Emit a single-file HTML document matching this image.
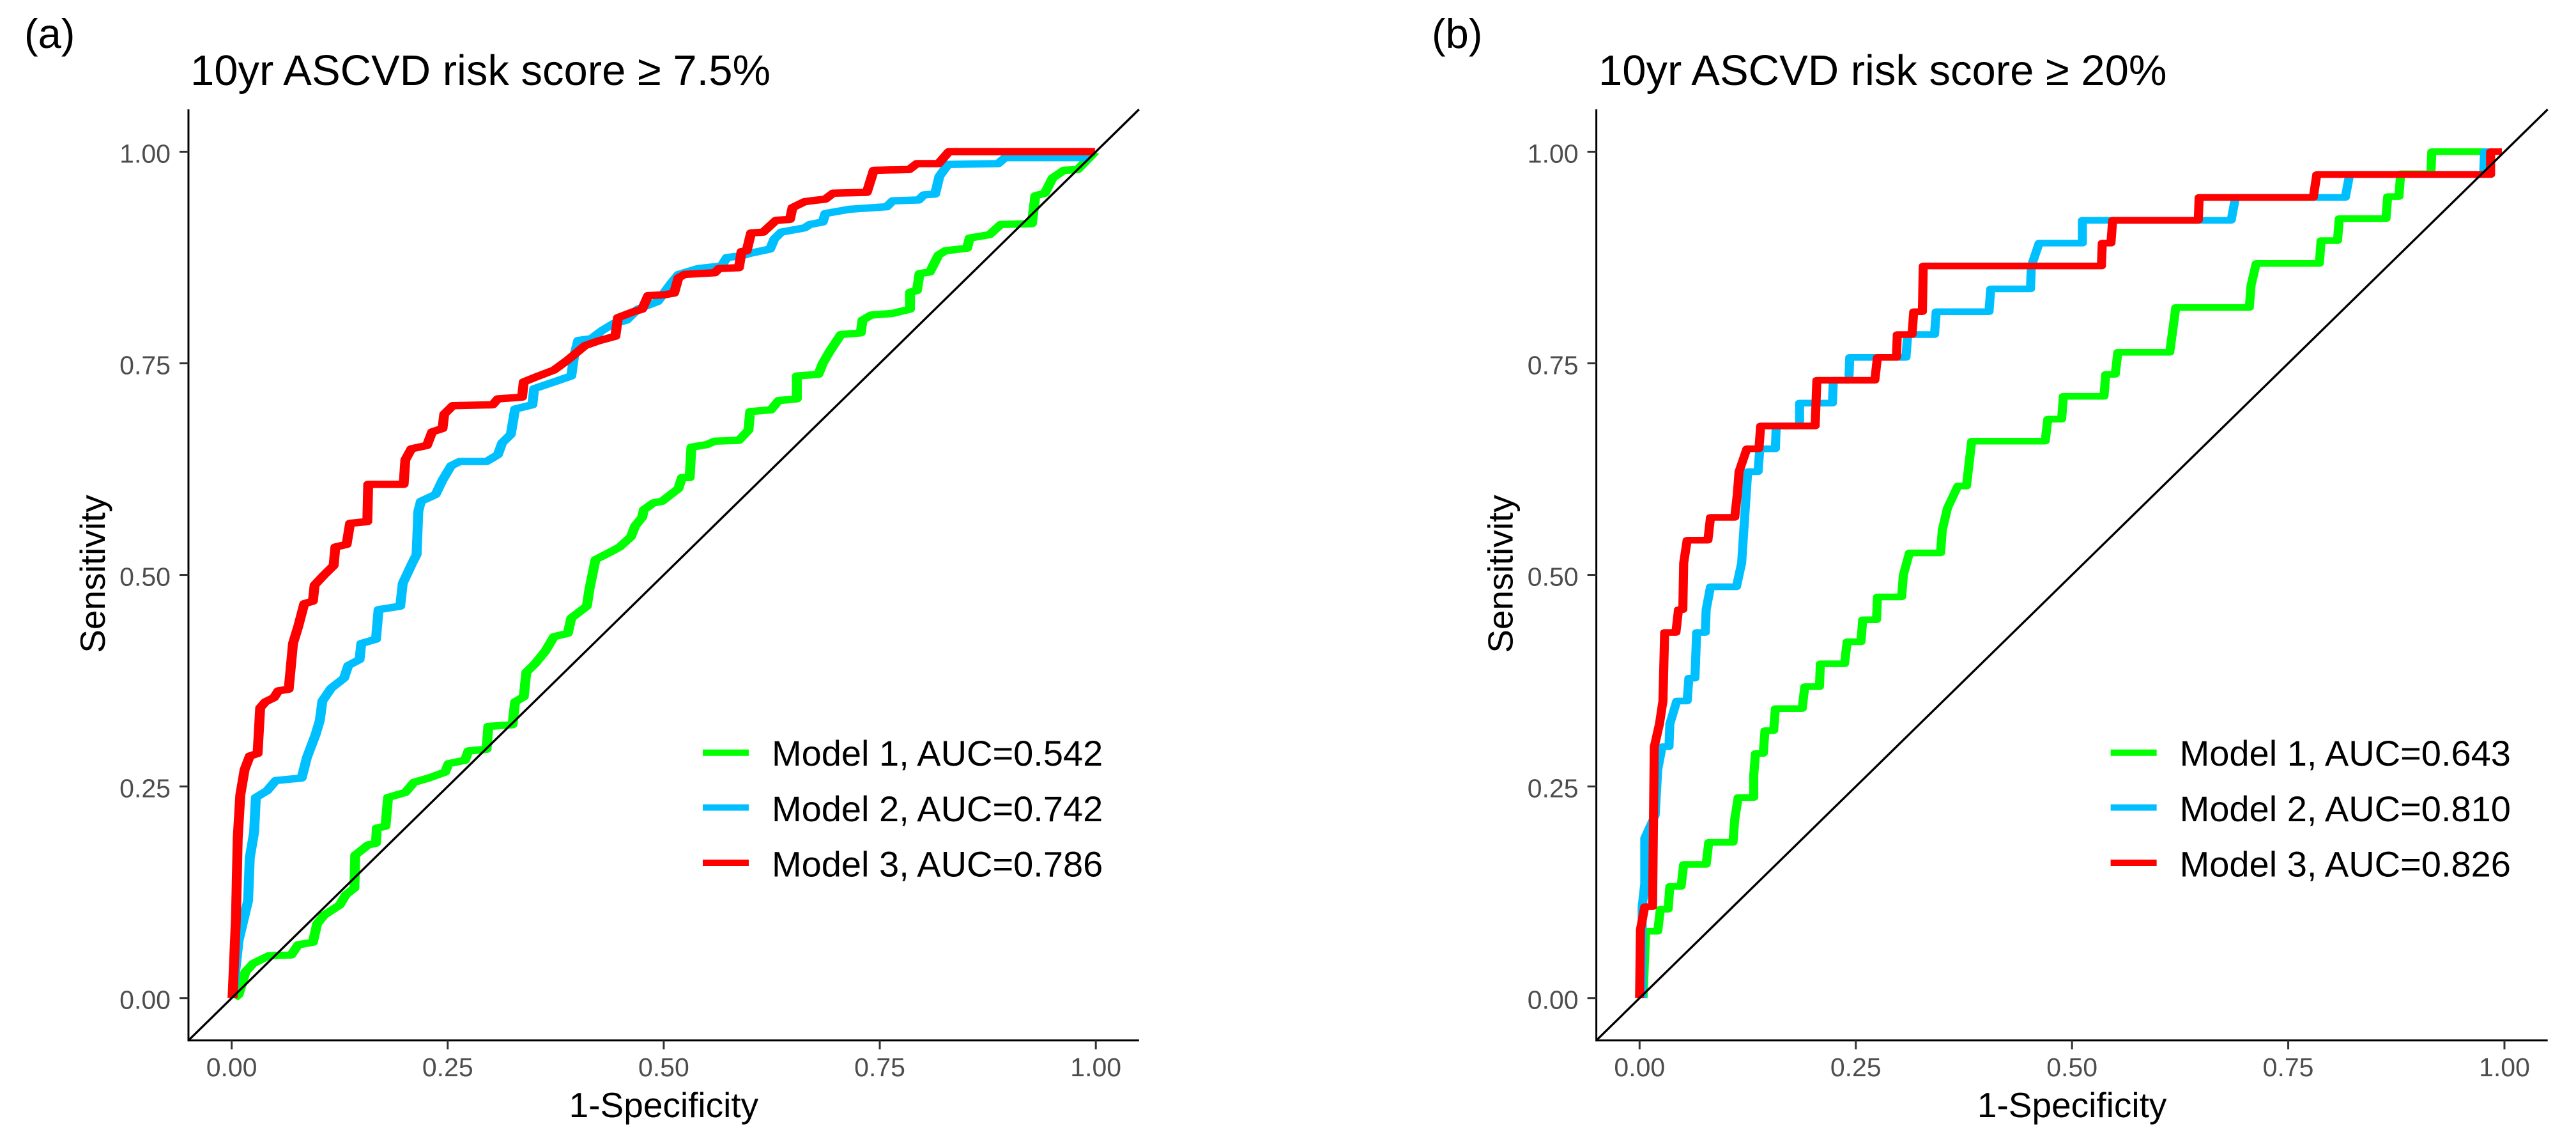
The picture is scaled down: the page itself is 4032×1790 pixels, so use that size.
<!DOCTYPE html>
<html lang="en">
<head>
<meta charset="utf-8">
<title>ROC curves for 10yr ASCVD risk score</title>
<style>
html,body{margin:0;padding:0;background:#fff;}
svg{display:block;font-family:"Liberation Sans",Arial,sans-serif;}
</style>
</head>
<body>
<svg id="figure" xmlns="http://www.w3.org/2000/svg" width="4032" height="1790" viewBox="0 0 4032 1790">
<rect x="0" y="0" width="4032" height="1790" fill="#fff"/>
<text x="38" y="75" font-size="65" fill="#000">(a)</text>
<text x="298" y="133" font-size="67" fill="#000">10yr ASCVD risk score ≥ 7.5%</text>
<text x="2241" y="75" font-size="65" fill="#000">(b)</text>
<text x="2502" y="133" font-size="67" fill="#000">10yr ASCVD risk score ≥ 20%</text>
<g id="panel-a"></g>
<g id="panel-b"></g>
</svg>
<script>
const xTickValues=[0,0.25,0.5,0.75,1];
const yTickValues=[0,0.25,0.5,0.75,1];
const tickLabels=["0.00","0.25","0.50","0.75","1.00"];
const seriesNames=["model-1","model-2","model-3"];
const seriesColors=["#00ff00","#00bfff","#ff0000"];
const panelALegend=["Model 1, AUC=0.542","Model 2, AUC=0.742","Model 3, AUC=0.786"];
const panelBLegend=["Model 1, AUC=0.643","Model 2, AUC=0.810","Model 3, AUC=0.826"];

const panelAModel1Fpr=[.003,.008,.016,.025,.043,.069,.077,.094,.099,.107,.125,.132,.142,.143,.158,.167,.168,.178,.181,.201,.211,.228,.247,.251,.270,.274,.295,.297,.325,.328,.338,.341,.351,.363,.373,.389,.393,.411,.414,.421,.440,.449,.462,.467,.475,.477,.488,.498,.517,.521,.530,.532,.550,.559,.587,.598,.600,.624,.633,.654,.654,.679,.684,.692,.705,.728,.730,.740,.765,.785,.785,.793,.796,.808,.818,.826,.851,.854,.877,.890,.926,.930,.941,.950,.963,.979,.999];
const panelAModel1Tpr=[0,.004,.031,.041,.050,.051,.063,.066,.088,.098,.110,.122,.130,.169,.181,.183,.201,.203,.237,.243,.255,.260,.267,.277,.281,.292,.294,.321,.323,.350,.356,.385,.395,.410,.427,.431,.449,.463,.483,.518,.528,.533,.545,.558,.568,.577,.585,.587,.602,.615,.615,.651,.654,.658,.659,.671,.693,.695,.706,.708,.735,.737,.750,.764,.784,.786,.801,.807,.809,.814,.834,.836,.856,.858,.878,.883,.886,.898,.902,.914,.915,.948,.951,.969,.978,.979,1];

const panelAModel2Fpr=[.001,.004,.008,.019,.021,.026,.028,.041,.051,.081,.087,.097,.102,.105,.115,.130,.135,.148,.150,.167,.170,.195,.198,.209,.214,.216,.219,.236,.244,.254,.264,.295,.308,.313,.323,.328,.348,.350,.373,.393,.396,.401,.416,.429,.442,.457,.470,.493,.509,.517,.540,.567,.573,.590,.600,.623,.628,.636,.663,.669,.684,.687,.715,.758,.765,.795,.801,.814,.819,.829,.887,.895,.993];
const panelAModel2Tpr=[0,.03,.068,.115,.166,.196,.237,.245,.257,.260,.284,.311,.328,.351,.366,.378,.393,.400,.419,.424,.459,.463,.490,.514,.524,.575,.587,.595,.612,.629,.634,.634,.642,.656,.666,.696,.701,.720,.728,.735,.757,.777,.779,.789,.797,.801,.814,.823,.845,.855,.862,.865,.875,.877,.880,.885,.897,.905,.910,.914,.917,.927,.932,.935,.942,.943,.949,.950,.971,.985,.986,.993,.993];

const panelAModel3Fpr=[.001,.003,.005,.006,.007,.010,.015,.021,.030,.033,.039,.049,.054,.066,.071,.077,.084,.094,.096,.107,.118,.120,.133,.137,.157,.158,.199,.201,.208,.226,.232,.244,.246,.256,.302,.308,.336,.338,.355,.373,.389,.409,.426,.444,.447,.465,.475,.482,.501,.512,.517,.524,.559,.564,.587,.590,.596,.601,.615,.630,.646,.649,.663,.687,.696,.735,.743,.784,.793,.818,.830,.999];
const panelAModel3Tpr=[0,.048,.095,.142,.189,.240,.270,.286,.289,.343,.350,.355,.363,.365,.419,.439,.466,.469,.488,.500,.511,.533,.536,.561,.563,.607,.607,.636,.649,.653,.669,.673,.690,.700,.701,.708,.710,.728,.735,.742,.754,.771,.777,.782,.804,.811,.814,.830,.831,.833,.851,.855,.857,.862,.863,.882,.883,.904,.905,.919,.920,.934,.941,.944,.951,.952,.978,.979,.986,.986,1,1];

const panelBModel1Fpr=[.004,.007,.021,.024,.033,.035,.048,.051,.077,.080,.108,.110,.114,.132,.132,.134,.143,.145,.155,.157,.188,.191,.208,.209,.237,.240,.256,.258,.274,.275,.303,.305,.312,.348,.350,.356,.368,.378,.381,.384,.469,.472,.488,.490,.537,.539,.550,.553,.613,.620,.705,.707,.713,.786,.788,.807,.809,.863,.865,.878,.880,.915,.916,.976];
const panelBModel1Tpr=[0,.079,.079,.105,.105,.132,.132,.158,.158,.184,.184,.211,.237,.237,.263,.289,.289,.316,.316,.342,.342,.368,.368,.395,.395,.421,.421,.447,.447,.474,.474,.5,.526,.526,.553,.579,.605,.605,.632,.658,.658,.684,.684,.711,.711,.737,.737,.763,.763,.816,.816,.842,.868,.868,.895,.895,.921,.921,.947,.947,.974,.974,1,1];

const panelBModel2Fpr=[.003,.003,.006,.006,.018,.021,.026,.034,.035,.043,.055,.057,.064,.066,.076,.077,.082,.112,.118,.125,.137,.139,.157,.158,.185,.185,.223,.224,.242,.243,.308,.310,.341,.343,.404,.406,.452,.453,.462,.512,.512,.684,.689,.816,.821,.976,.977,.985];
const panelBModel2Tpr=[0,.108,.135,.189,.216,.27,.297,.297,.324,.351,.351,.378,.378,.432,.432,.459,.486,.486,.514,.622,.622,.649,.649,.676,.676,.703,.703,.73,.73,.757,.757,.784,.784,.811,.811,.838,.838,.865,.892,.892,.919,.919,.946,.946,.973,.973,1,1];

const panelBModel3Fpr=[0,.001,.006,.015,.017,.023,.027,.029,.042,.045,.050,.051,.055,.079,.082,.110,.113,.115,.124,.138,.140,.203,.205,.272,.275,.297,.298,.315,.317,.327,.328,.534,.535,.545,.547,.646,.647,.779,.783,.984,.984,.997];
const panelBModel3Tpr=[0,.081,.108,.108,.297,.324,.351,.432,.432,.459,.459,.514,.541,.541,.568,.568,.595,.622,.649,.649,.676,.676,.73,.73,.757,.757,.784,.784,.811,.811,.865,.865,.892,.892,.919,.919,.946,.946,.973,.973,1,1];

const SVG_NS="http://www.w3.org/2000/svg";
const PEN_STRETCH=1.35;

function drawPanel(id,prefix,xZero,xUnit,penWidth,legendTexts,seriesFpr,seriesTpr){
  const root=document.getElementById(id);
  const yZero=1561.7,yUnit=1324.3;
  const xScale=v=>xZero+xUnit*v;
  const yScale=v=>yZero-yUnit*v;
  const axisLeft=xScale(-0.05),axisRight=xScale(1.05),axisTop=yScale(1.05),axisBottom=yScale(-0.05);

  const curves=document.createElementNS(SVG_NS,"g");
  
  
  curves.setAttribute("transform","scale("+PEN_STRETCH+" 1)");
  root.appendChild(curves);
  seriesFpr.forEach((fpr,s)=>{
    const tpr=seriesTpr[s];
    let d="";
    fpr.forEach((v,i)=>{d+=(i?"L":"M")+(xScale(v)/PEN_STRETCH).toFixed(2)+" "+yScale(tpr[i]).toFixed(2);});
    const path=document.createElementNS(SVG_NS,"path");
    path.setAttribute("d",d);
    path.setAttribute("fill","none");
    path.setAttribute("stroke",seriesColors[s]);
    path.setAttribute("stroke-width",penWidth);
    path.setAttribute("stroke-linejoin","round");
    
    
    curves.appendChild(path);
  });

  const diagonal=document.createElementNS(SVG_NS,"line");
  diagonal.setAttribute("x1",xScale(-0.05));
  diagonal.setAttribute("y1",yScale(-0.05));
  diagonal.setAttribute("x2",xScale(1.05));
  diagonal.setAttribute("y2",yScale(1.05));
  diagonal.setAttribute("stroke","#000");
  diagonal.setAttribute("stroke-width","3.4");
  
  
  root.appendChild(diagonal);

  const yAxis=document.createElementNS(SVG_NS,"line");
  yAxis.setAttribute("x1",axisLeft);
  yAxis.setAttribute("y1",axisTop);
  yAxis.setAttribute("x2",axisLeft);
  yAxis.setAttribute("y2",axisBottom+1.5);
  yAxis.setAttribute("stroke","#000");
  yAxis.setAttribute("stroke-width","3");
  
  
  root.appendChild(yAxis);

  const xAxis=document.createElementNS(SVG_NS,"line");
  xAxis.setAttribute("x1",axisLeft);
  xAxis.setAttribute("y1",axisBottom);
  xAxis.setAttribute("x2",axisRight);
  xAxis.setAttribute("y2",axisBottom);
  xAxis.setAttribute("stroke","#000");
  xAxis.setAttribute("stroke-width","3");
  
  
  root.appendChild(xAxis);

  xTickValues.forEach((v,i)=>{
    const tick=document.createElementNS(SVG_NS,"line");
    tick.setAttribute("x1",xScale(v));
    tick.setAttribute("y1",axisBottom);
    tick.setAttribute("x2",xScale(v));
    tick.setAttribute("y2",axisBottom+14);
    tick.setAttribute("stroke","#333");
    tick.setAttribute("stroke-width","3");
    
    
    root.appendChild(tick);
    const label=document.createElementNS(SVG_NS,"text");
    label.setAttribute("x",xScale(v));
    label.setAttribute("y",1684);
    label.setAttribute("text-anchor","middle");
    label.setAttribute("font-size","41");
    label.setAttribute("fill","#4d4d4d");
    
    
    label.textContent=tickLabels[i];
    root.appendChild(label);
  });

  yTickValues.forEach((v,i)=>{
    const tick=document.createElementNS(SVG_NS,"line");
    tick.setAttribute("x1",axisLeft-14);
    tick.setAttribute("y1",yScale(v));
    tick.setAttribute("x2",axisLeft);
    tick.setAttribute("y2",yScale(v));
    tick.setAttribute("stroke","#333");
    tick.setAttribute("stroke-width","3");
    
    
    root.appendChild(tick);
    const label=document.createElementNS(SVG_NS,"text");
    label.setAttribute("x",axisLeft-28);
    label.setAttribute("y",yScale(v)+17);
    label.setAttribute("text-anchor","end");
    label.setAttribute("font-size","41");
    label.setAttribute("fill","#4d4d4d");
    
    
    label.textContent=tickLabels[i];
    root.appendChild(label);
  });

  const xTitle=document.createElementNS(SVG_NS,"text");
  xTitle.setAttribute("x",xScale(0.5));
  xTitle.setAttribute("y",1748);
  xTitle.setAttribute("text-anchor","middle");
  xTitle.setAttribute("font-size","55");
  xTitle.setAttribute("fill","#000");
  
  
  xTitle.textContent="1-Specificity";
  root.appendChild(xTitle);

  const yTitle=document.createElementNS(SVG_NS,"text");
  const yTitleX=axisLeft-131;
  yTitle.setAttribute("transform","translate("+yTitleX+" 898) rotate(-90)");
  yTitle.setAttribute("text-anchor","middle");
  yTitle.setAttribute("font-size","55");
  yTitle.setAttribute("fill","#000");
  
  
  yTitle.textContent="Sensitivity";
  root.appendChild(yTitle);

  const legendLineY=[1177.7,1263.5,1350];
  const legendTextY=[1198,1285,1371.5];
  legendTexts.forEach((txt,s)=>{
    const key=document.createElementNS(SVG_NS,"line");
    key.setAttribute("x1",axisLeft+805);
    key.setAttribute("y1",legendLineY[s]);
    key.setAttribute("x2",axisLeft+877);
    key.setAttribute("y2",legendLineY[s]);
    key.setAttribute("stroke",seriesColors[s]);
    key.setAttribute("stroke-width","10");
    
    
    root.appendChild(key);
    const entry=document.createElementNS(SVG_NS,"text");
    entry.setAttribute("x",axisLeft+913);
    entry.setAttribute("y",legendTextY[s]);
    entry.setAttribute("font-size","56");
    entry.setAttribute("fill","#000");
    
    
    entry.textContent=txt;
    root.appendChild(entry);
  });
}

drawPanel("panel-a","panel-a",362.6,1352.6,11.5,panelALegend,
  [panelAModel1Fpr,panelAModel2Fpr,panelAModel3Fpr],
  [panelAModel1Tpr,panelAModel2Tpr,panelAModel3Tpr]);
drawPanel("panel-b","panel-b",2566.3,1353.7,10.5,panelBLegend,
  [panelBModel1Fpr,panelBModel2Fpr,panelBModel3Fpr],
  [panelBModel1Tpr,panelBModel2Tpr,panelBModel3Tpr]);
</script>
</body>
</html>
